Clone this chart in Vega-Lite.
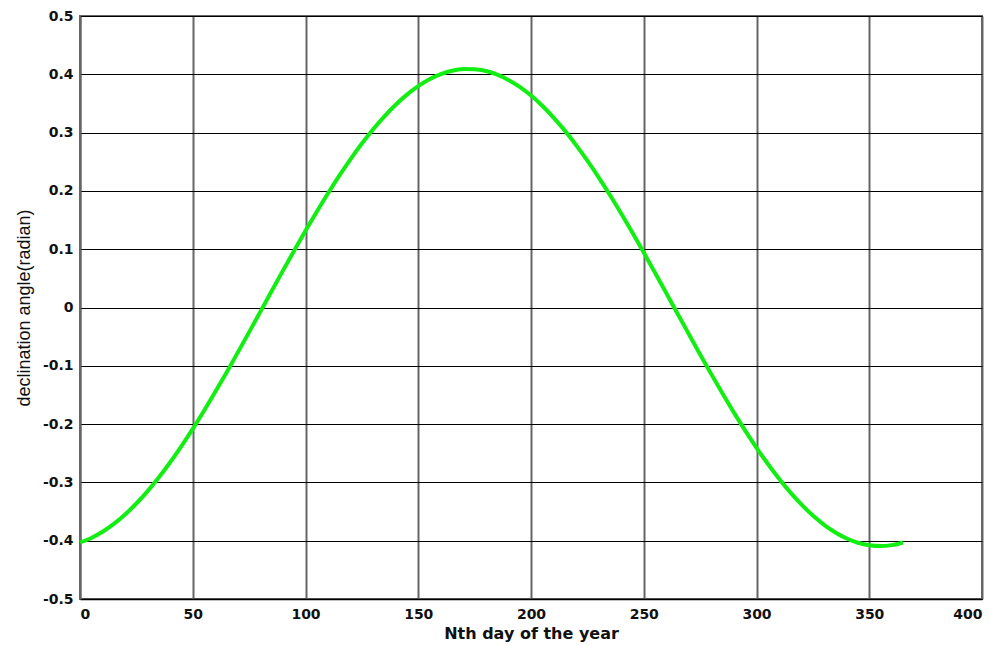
{
  "$schema": "https://vega.github.io/schema/vega-lite/v6.json",
  "autosize": "none",
  "padding": {"left": 80, "top": 16, "right": 20, "bottom": 47},
  "width": 902,
  "height": 583,
  "background": "white",
  "config": {
    "view": {"stroke": "#666666", "strokeWidth": 2},
    "font": "Liberation Sans"
  },
  "data": {"values": [
    {"day": 0, "decl": -0.4030}, {"day": 5, "decl": -0.3953}, {"day": 10, "decl": -0.3847}, {"day": 15, "decl": -0.3712},
    {"day": 20, "decl": -0.3550}, {"day": 25, "decl": -0.3362}, {"day": 30, "decl": -0.3149}, {"day": 35, "decl": -0.2913},
    {"day": 40, "decl": -0.2655}, {"day": 45, "decl": -0.2377}, {"day": 50, "decl": -0.2083}, {"day": 55, "decl": -0.1771},
    {"day": 60, "decl": -0.1447}, {"day": 65, "decl": -0.1113}, {"day": 70, "decl": -0.0770}, {"day": 75, "decl": -0.0422},
    {"day": 80, "decl": -0.0071}, {"day": 85, "decl": 0.0282}, {"day": 90, "decl": 0.0632}, {"day": 95, "decl": 0.0977},
    {"day": 100, "decl": 0.1315}, {"day": 105, "decl": 0.1643}, {"day": 110, "decl": 0.1959}, {"day": 115, "decl": 0.2261},
    {"day": 120, "decl": 0.2546}, {"day": 125, "decl": 0.2812}, {"day": 130, "decl": 0.3057}, {"day": 135, "decl": 0.3280},
    {"day": 140, "decl": 0.3478}, {"day": 145, "decl": 0.3651}, {"day": 150, "decl": 0.3796}, {"day": 155, "decl": 0.3914},
    {"day": 160, "decl": 0.4002}, {"day": 165, "decl": 0.4061}, {"day": 170, "decl": 0.4090}, {"day": 175, "decl": 0.4088},
    {"day": 180, "decl": 0.4057}, {"day": 185, "decl": 0.3995}, {"day": 190, "decl": 0.3904}, {"day": 195, "decl": 0.3783},
    {"day": 200, "decl": 0.3635}, {"day": 205, "decl": 0.3460}, {"day": 210, "decl": 0.3258}, {"day": 215, "decl": 0.3034},
    {"day": 220, "decl": 0.2785}, {"day": 225, "decl": 0.2518}, {"day": 230, "decl": 0.2232}, {"day": 235, "decl": 0.1929},
    {"day": 240, "decl": 0.1611}, {"day": 245, "decl": 0.1282}, {"day": 250, "decl": 0.0943}, {"day": 255, "decl": 0.0597},
    {"day": 260, "decl": 0.0246}, {"day": 265, "decl": -0.0106}, {"day": 270, "decl": -0.0457}, {"day": 275, "decl": -0.0805},
    {"day": 280, "decl": -0.1147}, {"day": 285, "decl": -0.1480}, {"day": 290, "decl": -0.1803}, {"day": 295, "decl": -0.2112},
    {"day": 300, "decl": -0.2406}, {"day": 305, "decl": -0.2681}, {"day": 310, "decl": -0.2937}, {"day": 315, "decl": -0.3171},
    {"day": 320, "decl": -0.3382}, {"day": 325, "decl": -0.3568}, {"day": 330, "decl": -0.3727}, {"day": 335, "decl": -0.3859},
    {"day": 340, "decl": -0.3962}, {"day": 345, "decl": -0.4035}, {"day": 350, "decl": -0.4079}, {"day": 355, "decl": -0.4093},
    {"day": 360, "decl": -0.4076}, {"day": 365, "decl": -0.4030}
  ]},
  "mark": {"type": "line", "color": "#11ee11", "strokeWidth": 4, "interpolate": "monotone"},
  "encoding": {
    "x": {
      "field": "day", "type": "quantitative",
      "scale": {"domain": [0, 400], "nice": false, "zero": false},
      "axis": {
        "title": "Nth day of the year",
        "values": [0, 50, 100, 150, 200, 250, 300, 350, 400],
        "labelExpr": "toString(datum.value)",
        "grid": true, "gridColor": "#666666", "gridWidth": 2, "gridOpacity": 1,
        "domainColor": "#000000", "domainWidth": 1.5,
        "ticks": false,
        "labelFont": "DejaVu Sans", "labelFontWeight": "bold", "labelFontSize": 14, "labelColor": "#111111",
        "labelPadding": 8,
        "titleFont": "DejaVu Sans", "titleFontWeight": "bold", "titleFontSize": 16, "titleColor": "#111111",
        "titlePadding": 4
      }
    },
    "y": {
      "field": "decl", "type": "quantitative",
      "scale": {"domain": [-0.5, 0.5], "nice": false, "zero": false},
      "axis": {
        "title": "declination angle(radian)",
        "values": [-0.5, -0.4, -0.3, -0.2, -0.1, 0, 0.1, 0.2, 0.3, 0.4, 0.5],
        "labelExpr": "toString(datum.value)",
        "grid": true, "gridColor": "#000000", "gridWidth": 1, "gridOpacity": 1,
        "domainColor": "#666666", "domainWidth": 2,
        "ticks": false,
        "labelFont": "DejaVu Sans", "labelFontWeight": "bold", "labelFontSize": 14, "labelColor": "#111111",
        "labelPadding": 7,
        "titleFont": "Liberation Sans", "titleFontWeight": "normal", "titleFontSize": 18, "titleColor": "#111111",
        "titlePadding": 9
      }
    }
  }
}
